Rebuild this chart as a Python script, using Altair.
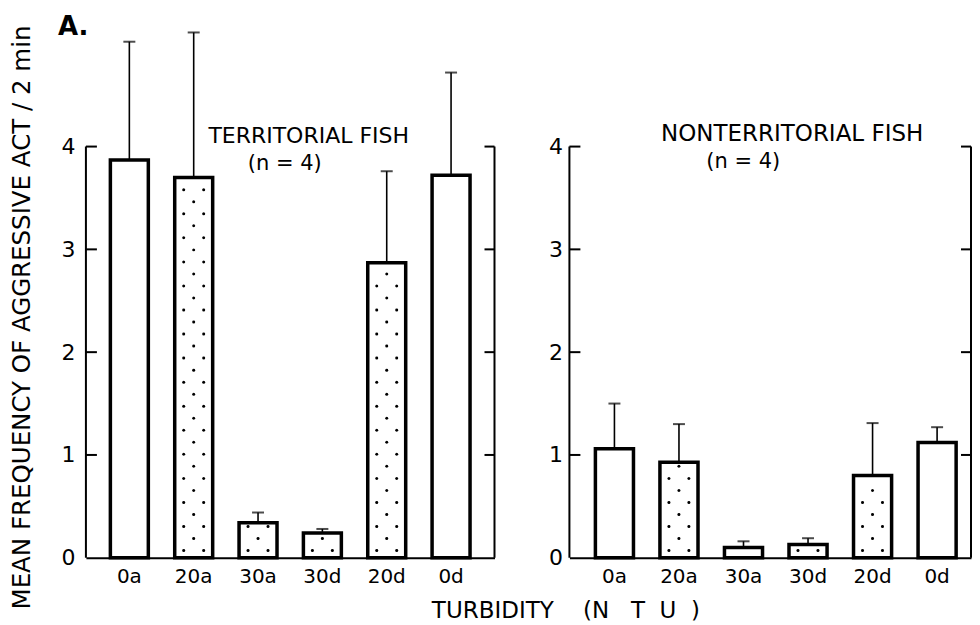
import altair as alt
import pandas as pd

FONT = "DejaVu Sans"
NB = "\u00a0"

categories = ["0a", "20a", "30a", "30d", "20d", "0d"]
stippled = [False, True, True, True, True, False]
terr_mean = [3.87, 3.70, 0.34, 0.24, 2.87, 3.72]
terr_se = [1.15, 1.41, 0.10, 0.04, 0.89, 1.00]
nonterr_mean = [1.06, 0.93, 0.10, 0.13, 0.80, 1.12]
nonterr_se = [0.44, 0.37, 0.06, 0.06, 0.51, 0.15]
y_labels = [0, 1, 2, 3, 4]
y_ticks = [1, 2, 3, 4]

Y_TITLE = "MEAN FREQUENCY OF AGGRESSIVE ACT / 2 min"
X_TITLE = "TURBIDITY" + NB * 4 + "(N" + NB * 3 + "T" + NB * 2 + "U" + NB * 2 + ")"

# dot columns inside a stippled bar, as offsets from the band's left edge
DOT_SHIFT = {"L": 9, "M": 19, "R": 29}


def dot_rows(means):
    rows = []
    for c, m, s in zip(categories, means, stippled):
        if not s:
            continue
        k = 0
        y = 0.07
        while y < m - 0.03:
            for col in (["L", "R"] if k % 2 == 0 else ["M"]):
                rows.append({"cat": c, "y": y, "col": col})
            k += 1
            y = 0.07 + k * 0.117
    return pd.DataFrame(rows)


def panel(means, ses, width, label_pad, title, notes, pad_outer, align):
    df = pd.DataFrame({
        "cat": categories,
        "mean": means,
        "top": [m + s for m, s in zip(means, ses)],
    })
    xscale = alt.Scale(domain=categories, paddingInner=0.41,
                       paddingOuter=pad_outer, align=align)
    xaxis = alt.Axis(title=None, labelAngle=0, ticks=False, domain=True,
                     domainColor="black", domainWidth=2, labelPadding=9,
                     labelFontSize=20, labelColor="black", labelFont=FONT)
    yscale = alt.Scale(domain=[0, 5.306], nice=False, zero=True)
    if title:
        yaxis = alt.Axis(values=y_labels, ticks=False, domain=False, grid=False,
                         labelPadding=label_pad, labelFontSize=22, labelColor="black",
                         labelFont=FONT, title=title, titleFont=FONT, titleFontSize=24.5,
                         titleFontWeight="normal", titleColor="black", titlePadding=26,
                         titleY=305)
    else:
        yaxis = alt.Axis(values=y_labels, ticks=False, domain=False, grid=False,
                         labelPadding=label_pad, labelFontSize=22, labelColor="black",
                         labelFont=FONT, title=None)

    def X():
        return alt.X("cat:N", sort=categories, scale=xscale, axis=xaxis)

    def Y(f):
        return alt.Y(f, scale=yscale, axis=yaxis)

    base = alt.Chart(df)
    err = base.mark_rule(color="black", strokeWidth=1.6).encode(
        x=X(), y=Y("mean:Q"), y2="top:Q")
    caps = base.mark_tick(color="black", size=12, thickness=2).encode(
        x=X(), y=Y("top:Q"))
    bars = base.mark_bar(fill="white", stroke="black", strokeWidth=3.5).encode(
        x=X(), y=Y("mean:Q"))
    drows = dot_rows(means)
    dot_layers = []
    for col, shift in DOT_SHIFT.items():
        dot_layers.append(
            alt.Chart(drows[drows["col"] == col]).mark_circle(
                color="black", size=9, opacity=1).encode(
                x=X(), y=Y("y:Q"), xOffset=alt.value(shift)))
    rng = pd.DataFrame({"lo": [0], "hi": [4]})
    tk = pd.DataFrame({"t": y_ticks})
    laxis = alt.Chart(rng).mark_rule(color="black", strokeWidth=2).encode(
        x=alt.value(0), y=Y("lo:Q"), y2="hi:Q")
    raxis = alt.Chart(rng).mark_rule(color="black", strokeWidth=2).encode(
        x=alt.value(width), y=Y("lo:Q"), y2="hi:Q")
    lticks = alt.Chart(tk).mark_rule(color="black", strokeWidth=2).encode(
        x=alt.value(0), x2=alt.value(11), y=Y("t:Q"))
    rticks = alt.Chart(tk).mark_rule(color="black", strokeWidth=2).encode(
        x=alt.value(width - 10), x2=alt.value(width), y=Y("t:Q"))
    layers = [err, caps, bars] + dot_layers + [laxis, raxis, lticks, rticks]
    for txt, x, y, size, weight in notes:
        layers.append(
            alt.Chart(pd.DataFrame({"a": [0]})).mark_text(
                font=FONT, fontSize=size, fontWeight=weight, color="black",
                align="center" if weight == "normal" else "left", baseline="alphabetic"
            ).encode(x=alt.value(x), y=alt.value(y), text=alt.value(txt)))
    return alt.layer(*layers).properties(width=width, height=546)


left = panel(terr_mean, terr_se, 409, 11, Y_TITLE, [
    ("TERRITORIAL FISH", 223, 131, 22, "normal"),
    ("(n = 4)", 199, 158, 21, "normal"),
    ("A.", -28, 23, 26, "bold"),
], 0.38, 0.5)
right = panel(nonterr_mean, nonterr_se, 402, 7, None, [
    ("NONTERRITORIAL FISH", 223, 129, 23, "normal"),
    ("(n = 4)", 174, 156, 21, "normal"),
], 0.3165, 0.636)

chart = alt.hconcat(left, right, spacing=53).properties(
    padding={"left": 2, "top": 4, "right": 0, "bottom": 0},
    title=alt.TitleParams(X_TITLE, orient="bottom", anchor="middle", font=FONT,
                          fontSize=23, fontWeight="normal", color="black",
                          offset=0, dx=75, dy=-9),
).configure_view(stroke=None)

chart.save("out.html", embed_options={"renderer": "svg", "actions": False})
